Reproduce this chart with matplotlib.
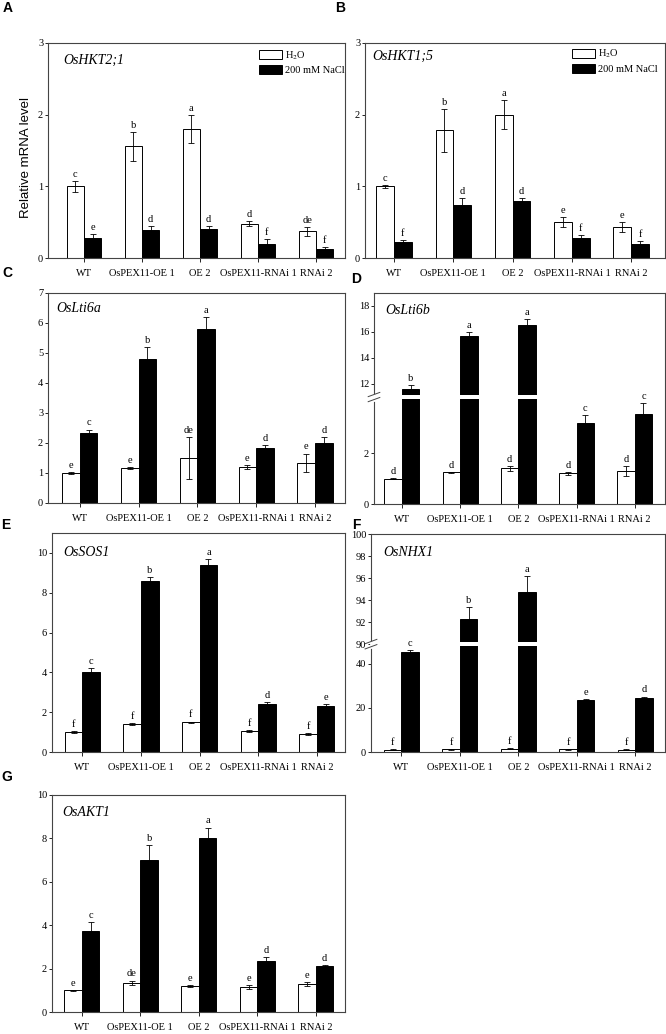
import numpy as np
import matplotlib
matplotlib.use('Agg')
import matplotlib.pyplot as plt
from matplotlib.patches import Patch

plt.rcParams['font.family'] = ['Liberation Serif', 'DejaVu Serif']
plt.rcParams['mathtext.fontset'] = 'stix'

# genotypes on the x axis
lines = ['WT', 'OsPEX11-OE 1', 'OE 2', 'OsPEX11-RNAi 1', 'RNAi 2']

# A  OsHKT2;1
hkt21_h2o = [1.0, 1.56, 1.8, 0.48, 0.37]
hkt21_h2o_err = [0.08, 0.2, 0.2, 0.03, 0.06]
hkt21_nacl = [0.28, 0.39, 0.40, 0.20, 0.13]
hkt21_nacl_err = [0.06, 0.05, 0.05, 0.06, 0.02]
hkt21_let_h2o = ['c', 'b', 'a', 'd', 'de']
hkt21_let_nacl = ['e', 'd', 'd', 'f', 'f']

# B  OsHKT1;5
hkt15_h2o = [1.0, 1.78, 2.0, 0.5, 0.43]
hkt15_h2o_err = [0.02, 0.3, 0.2, 0.07, 0.07]
hkt15_nacl = [0.22, 0.74, 0.8, 0.28, 0.2]
hkt15_nacl_err = [0.03, 0.1, 0.04, 0.04, 0.04]
hkt15_let_h2o = ['c', 'b', 'a', 'e', 'e']
hkt15_let_nacl = ['f', 'd', 'd', 'f', 'f']

# C  OsLti6a
lti6a_h2o = [1.0, 1.17, 1.5, 1.2, 1.35]
lti6a_h2o_err = [0.03, 0.04, 0.7, 0.06, 0.3]
lti6a_nacl = [2.35, 4.8, 5.8, 1.83, 2.0]
lti6a_nacl_err = [0.1, 0.4, 0.4, 0.1, 0.2]
lti6a_let_h2o = ['e', 'e', 'de', 'e', 'e']
lti6a_let_nacl = ['c', 'b', 'a', 'd', 'd']

# D  OsLti6b (broken axis)
lti6b_h2o = [1.0, 1.25, 1.4, 1.2, 1.3]
lti6b_h2o_err = [0.02, 0.02, 0.1, 0.07, 0.2]
lti6b_nacl = [11.6, 15.7, 16.5, 3.2, 3.55]
lti6b_nacl_err = [0.3, 0.3, 0.5, 0.3, 0.4]
lti6b_let_h2o = ['d', 'd', 'd', 'd', 'd']
lti6b_let_nacl = ['b', 'a', 'a', 'c', 'c']

# E  OsSOS1
sos1_h2o = [1.0, 1.4, 1.5, 1.05, 0.9]
sos1_h2o_err = [0.05, 0.04, 0.03, 0.03, 0.04]
sos1_nacl = [4.0, 8.57, 9.4, 2.4, 2.3]
sos1_nacl_err = [0.2, 0.2, 0.3, 0.1, 0.1]
sos1_let_h2o = ['f', 'f', 'f', 'f', 'f']
sos1_let_nacl = ['c', 'b', 'a', 'd', 'e']

# F  OsNHX1 (broken axis)
nhx1_h2o = [1.0, 1.3, 1.5, 1.2, 1.0]
nhx1_h2o_err = [0.2, 0.2, 0.3, 0.3, 0.2]
nhx1_nacl = [45.5, 92.3, 94.7, 23.8, 24.6]
nhx1_nacl_err = [0.9, 1.1, 1.5, 0.3, 0.6]
nhx1_let_h2o = ['f', 'f', 'f', 'f', 'f']
nhx1_let_nacl = ['c', 'b', 'a', 'e', 'd']

# G  OsAKT1
akt1_h2o = [1.0, 1.35, 1.2, 1.15, 1.3]
akt1_h2o_err = [0.03, 0.1, 0.06, 0.1, 0.1]
akt1_nacl = [3.75, 7.0, 8.0, 2.35, 2.1]
akt1_nacl_err = [0.4, 0.7, 0.5, 0.2, 0.08]
akt1_let_h2o = ['e', 'de', 'e', 'e', 'e']
akt1_let_nacl = ['c', 'b', 'a', 'd', 'd']

W, H = 666, 1034
TXT = 7.5


def frame(l, t, r, b):
    return [l / W, 1 - b / H, (r - l) / W, (b - t) / H]


def break_scale(b1, b2, k):
    # linear below b1, squeezed gap, slope k above b2
    eps = 1e-3
    xp = np.array([-1e4, b1, b2, 1e4])
    vp = np.array([-1e4, b1, b1 + (b2 - b1) * eps,
                   b1 + (b2 - b1) * eps + (1e4 - b2) * k])
    fwd = lambda y: np.interp(y, xp, vp)
    inv = lambda v: np.interp(v, vp, xp)
    return fwd, inv


def draw_panel(ax, h2o, h2o_err, nacl, nacl_err, let_h2o, let_nacl,
               xlim, ylim, yticks, gene, gene_off):
    x = np.arange(len(lines))
    w = 0.3
    ax.bar(x - w / 2, h2o, w, color='white', edgecolor='black', lw=0.7, zorder=2)
    ax.bar(x + w / 2, nacl, w, color='black', edgecolor='black', lw=0.7, zorder=2)
    for xs, v, e in ((x - w / 2, h2o, h2o_err), (x + w / 2, nacl, nacl_err)):
        ax.errorbar(xs, v, yerr=e, fmt='none', ecolor='black', elinewidth=0.6,
                    capsize=2, capthick=0.6, zorder=2.1)
    for xs, v, e, lab in ((x - w / 2, h2o, h2o_err, let_h2o),
                          (x + w / 2, nacl, nacl_err, let_nacl)):
        for xi, vi, ei, t in zip(xs, v, e, lab):
            ax.annotate(t, (xi, vi + ei), xytext=(0, 1.5), textcoords='offset points',
                        ha='center', va='bottom', fontsize=TXT)
    ax.set_xlim(*xlim)
    ax.set_ylim(*ylim)
    ax.set_yticks(yticks)
    ax.set_yticklabels([str(t) for t in yticks])
    ax.set_xticks(x)
    ax.set_xticklabels(lines)
    ax.tick_params(axis='y', direction='out', length=2.5, width=0.6, labelsize=TXT, pad=1)
    ax.tick_params(axis='x', direction='out', length=3, width=0.6, labelsize=TXT, pad=5)
    for s in ax.spines.values():
        s.set_linewidth(0.8)
        s.set_color('#444444')
    bbox = ax.get_position()
    ax.text(gene_off[0] / (bbox.width * W), 1 - gene_off[1] / (bbox.height * H), gene,
            transform=ax.transAxes, style='italic', fontsize=10, ha='left', va='center')


def add_break(ax, fwd, inv, b1, gap):
    v0, v1 = fwd(ax.get_ylim()[0]), fwd(ax.get_ylim()[1])
    vb = fwd(b1)
    ax.axhspan(inv(vb - gap), inv(vb + gap), color='white', lw=0, zorder=2.3)
    yb = (vb - v0) / (v1 - v0)
    d = 0.012
    ax.plot([0, 0], [yb - d, yb + d], transform=ax.transAxes, color='white',
            lw=2, clip_on=False, zorder=3)
    for off in (-d, d):
        ax.plot([-0.02, 0.02], [yb + off - 0.01, yb + off + 0.01],
                transform=ax.transAxes, color='#444444', lw=0.7, clip_on=False, zorder=3.1)


def add_legend(ax, anchor):
    handles = [Patch(facecolor='white', edgecolor='black', lw=0.7, label='H$_2$O'),
               Patch(facecolor='black', edgecolor='black', lw=0.7, label='200 mM NaCl')]
    ax.legend(handles=handles, loc='upper right', bbox_to_anchor=anchor, frameon=False,
              fontsize=TXT, handlelength=2.2, handleheight=0.9, borderaxespad=0,
              borderpad=0, labelspacing=0.35, handletextpad=0.3)


fig = plt.figure(figsize=(W / 100, H / 100), dpi=100)

axA = fig.add_axes(frame(48, 43, 345, 258))
draw_panel(axA, hkt21_h2o, hkt21_h2o_err, hkt21_nacl, hkt21_nacl_err,
           hkt21_let_h2o, hkt21_let_nacl, (-0.62, 4.5), (0, 3), [0, 1, 2, 3],
           'OsHKT2;1', (15, 17))
add_legend(axA, (1.0, 0.972))

axB = fig.add_axes(frame(365, 43, 665, 258))
draw_panel(axB, hkt15_h2o, hkt15_h2o_err, hkt15_nacl, hkt15_nacl_err,
           hkt15_let_h2o, hkt15_let_nacl, (-0.49, 4.57), (0, 3), [0, 1, 2, 3],
           'OsHKT1;5', (7, 13))
add_legend(axB, (0.977, 0.977))

axC = fig.add_axes(frame(48, 293, 345, 503))
draw_panel(axC, lti6a_h2o, lti6a_h2o_err, lti6a_nacl, lti6a_nacl_err,
           lti6a_let_h2o, lti6a_let_nacl, (-0.54, 4.51), (0, 7), list(range(8)),
           'OsLti6a', (8, 15))

axD = fig.add_axes(frame(374, 293, 665, 504))
fwdD, invD = break_scale(4.2, 11, 0.51)
axD.set_yscale('function', functions=(fwdD, invD))
draw_panel(axD, lti6b_h2o, lti6b_h2o_err, lti6b_nacl, lti6b_nacl_err,
           lti6b_let_h2o, lti6b_let_nacl, (-0.48, 4.52), (0, 19), [0, 2, 12, 14, 16, 18],
           'OsLti6b', (11, 17))
add_break(axD, fwdD, invD, 4.2, 0.08)

axE = fig.add_axes(frame(52, 533, 345, 752))
draw_panel(axE, sos1_h2o, sos1_h2o_err, sos1_nacl, sos1_nacl_err,
           sos1_let_h2o, sos1_let_nacl, (-0.52, 4.48), (0, 11), [0, 2, 4, 6, 8, 10],
           'OsSOS1', (11, 19))

axF = fig.add_axes(frame(371, 534, 665, 752))
fwdF, invF = break_scale(49, 90, 5.0)
axF.set_yscale('function', functions=(fwdF, invF))
draw_panel(axF, nhx1_h2o, nhx1_h2o_err, nhx1_nacl, nhx1_nacl_err,
           nhx1_let_h2o, nhx1_let_nacl, (-0.52, 4.51), (0, 100),
           [0, 20, 40, 90, 92, 94, 96, 98, 100], 'OsNHX1', (12, 19))
add_break(axF, fwdF, invF, 49, 0.9)

axG = fig.add_axes(frame(52, 795, 345, 1012))
draw_panel(axG, akt1_h2o, akt1_h2o_err, akt1_nacl, akt1_nacl_err,
           akt1_let_h2o, akt1_let_nacl, (-0.51, 4.5), (0, 10), [0, 2, 4, 6, 8, 10],
           'OsAKT1', (10, 17))

fig.text(26 / W, 1 - 157 / H, 'Relative mRNA level', rotation=90, ha='center',
         va='center', fontsize=9.5, family='Liberation Sans')

for lab, px, py in (('A', 8, 8), ('B', 340, 8), ('C', 7, 273), ('D', 356, 279),
                    ('E', 6, 525), ('F', 356, 525), ('G', 7, 777)):
    fig.text(px / W, 1 - py / H, lab, ha='center', va='center', fontsize=10,
             fontweight='bold', family='Liberation Sans')

fig.savefig('out.png', dpi=100)
